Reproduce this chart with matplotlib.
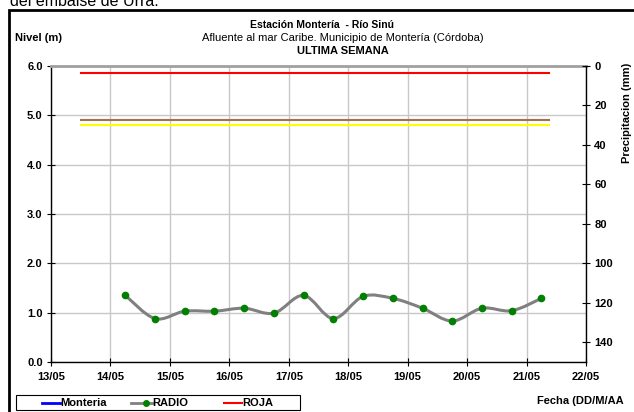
import matplotlib
matplotlib.use("Agg")
import matplotlib.pyplot as plt
import matplotlib.dates as mdates
from matplotlib.path import Path
from matplotlib.patches import PathPatch, Rectangle
from matplotlib.lines import Line2D
import numpy as np
import pandas as pd

plt.rcParams['font.family'] = ['Liberation Sans', 'DejaVu Sans']

# ---- data ----
radio_times = ['2023-05-14 06:00', '2023-05-14 18:00', '2023-05-15 06:00', '2023-05-15 18:00',
               '2023-05-16 06:00', '2023-05-16 18:00', '2023-05-17 06:00', '2023-05-17 18:00',
               '2023-05-18 06:00', '2023-05-18 18:00', '2023-05-19 06:00', '2023-05-19 18:00',
               '2023-05-20 06:00', '2023-05-20 18:00', '2023-05-21 06:00']
radio_levels = [1.35, 0.88, 1.03, 1.03, 1.09, 0.99, 1.35, 0.88, 1.33, 1.29, 1.09, 0.83, 1.09, 1.04, 1.29]
threshold_span = ['2023-05-13 12:00', '2023-05-21 09:00']
roja_level = 5.85
brown_level = 4.9
yellow_level = 4.8
x_ticks = ['2023-05-13', '2023-05-14', '2023-05-15', '2023-05-16', '2023-05-17',
           '2023-05-18', '2023-05-19', '2023-05-20', '2023-05-21', '2023-05-22']
y_ticks = [0.0, 1.0, 2.0, 3.0, 4.0, 5.0, 6.0]
precip_ticks = [0, 20, 40, 60, 80, 100, 120, 140]
legend_labels = ['Monteria', 'RADIO', 'ROJA']

W, H = 634, 412
fig = plt.figure(figsize=(W / 100, H / 100), dpi=100)
ax = fig.add_axes([51 / W, 1 - 362 / H, (586 - 51) / W, (362 - 66) / H])

xt = mdates.date2num(pd.to_datetime(x_ticks))
ax.set_xlim(xt[0], xt[-1])
ax.set_ylim(0, 6)
ax.set_xticks(xt)
ax.xaxis.set_major_formatter(mdates.DateFormatter('%d/%m'))
ax.set_yticks(y_ticks)
ax.set_yticklabels([f'{v:.1f}' for v in y_ticks])
ax.grid(True, color='#c8c8c8', lw=1.0)
ax.set_axisbelow(True)
for lab in ax.get_xticklabels() + ax.get_yticklabels():
    lab.set_fontweight('bold')
    lab.set_fontsize(8)
ax.tick_params(axis='both', direction='inout', length=6, width=0.8, color='black')
ax.tick_params(axis='x', pad=4)
ax.tick_params(axis='y', pad=3)
ax.spines['top'].set_color('#a0a0a0')
ax.spines['top'].set_linewidth(2)
ax.spines['right'].set_visible(False)
for s in ['left', 'bottom']:
    ax.spines[s].set_linewidth(1.0)

# threshold lines
ts = mdates.date2num(pd.to_datetime(threshold_span))
ax.plot(ts, [roja_level] * 2, color='#ff0000', lw=1.5)
ax.plot(ts, [brown_level] * 2, color='#a5714a', lw=1.5)
ax.plot(ts, [yellow_level] * 2, color='#ffff00', lw=1.5)

# RADIO smoothed line (Catmull-Rom bezier through the points)
rx = mdates.date2num(pd.to_datetime(radio_times))
ry = np.array(radio_levels)
P = np.column_stack([rx, ry])
verts = [P[0]]
codes = [Path.MOVETO]
n = len(P)
for i in range(n - 1):
    p0 = P[i - 1] if i > 0 else P[i]
    p1 = P[i]
    p2 = P[i + 1]
    p3 = P[i + 2] if i + 2 < n else P[i + 1]
    c1 = p1 + (p2 - p0) / 6.0
    c2 = p2 - (p3 - p1) / 6.0
    verts += [c1, c2, p2]
    codes += [Path.CURVE4] * 3
ax.add_patch(PathPatch(Path(verts, codes), fc='none', ec='#808080', lw=2.2, zorder=3))
ax.plot(rx, ry, ls='none', marker='o', ms=4.5, color='#008000', zorder=4)

# right axis
ax2 = ax.twinx()
ax2.set_ylim(150, 0)
ax2.set_yticks(precip_ticks)
ax2.tick_params(axis='y', direction='inout', length=6, width=0.8, pad=3)
for lab in ax2.get_yticklabels():
    lab.set_fontweight('bold')
    lab.set_fontsize(8)
ax2.spines['right'].set_linewidth(1.0)
ax2.spines['top'].set_visible(False)
ax2.spines['left'].set_visible(False)
ax2.spines['bottom'].set_visible(False)
ax2.set_ylabel('Precipitacion (mm)', fontsize=8, fontweight='bold', labelpad=4)
ax2.yaxis.set_label_coords(1 + (622 - 586) / (586 - 51), 0.84)

# titles
fig.text(322 / W, 1 - 25 / H, 'Estación Montería  - Río Sinú', ha='center', va='center',
         fontsize=7.5, fontweight='bold')
fig.text(343 / W, 1 - 38 / H, 'Afluente al mar Caribe. Municipio de Montería (Córdoba)',
         ha='center', va='center', fontsize=8)
fig.text(343 / W, 1 - 51 / H, 'ULTIMA SEMANA', ha='center', va='center',
         fontsize=8, fontweight='bold')
fig.text(15 / W, 1 - 38 / H, 'Nivel (m)', ha='left', va='center', fontsize=8, fontweight='bold')
fig.text(537 / W, 1 - 401 / H, 'Fecha (DD/M/AA', ha='left', va='center',
         fontsize=8, fontweight='bold')
fig.text(10 / W, 1 - 1 / H, 'del embalse de Urrá.', ha='left', va='center', fontsize=11.5)

# outer frame
fig.add_artist(Rectangle((9 / W, -0.1), 1.2, 1 - 10 / H + 0.1, transform=fig.transFigure,
                         fill=False, ec='black', lw=2))

# legend (drawn manually in figure pixel coordinates)
def fx(px):
    return px / W

def fy(py):
    return 1 - py / H

fig.add_artist(Rectangle((fx(16), fy(410)), (300 - 16) / W, 15 / H, transform=fig.transFigure,
                         fill=True, fc='white', ec='black', lw=0.8))
ly = fy(402.5)
fig.add_artist(Line2D([fx(42), fx(60)], [ly, ly], color='#0000ff', lw=2, transform=fig.transFigure))
fig.add_artist(Line2D([fx(131), fx(152)], [ly, ly], color='#808080', lw=2, transform=fig.transFigure))
fig.add_artist(Line2D([fx(146)], [ly], ls='none', marker='o', ms=4, color='#008000',
                      transform=fig.transFigure))
fig.add_artist(Line2D([fx(224), fx(242)], [ly, ly], color='#ff0000', lw=1.5, transform=fig.transFigure))
for xpos, lab in zip([60, 152, 242], legend_labels):
    fig.text(fx(xpos), ly, lab, ha='left', va='center', fontsize=8, fontweight='bold')

fig.savefig('out.png', dpi=100)
